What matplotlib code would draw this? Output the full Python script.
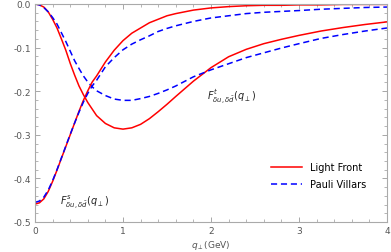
import numpy as np
import matplotlib.pyplot as plt
from matplotlib.ticker import MultipleLocator, FormatStrFormatter

# q_perp grid (GeV)
q = [0, 0.05, 0.1, 0.15, 0.2, 0.25, 0.3, 0.35, 0.4, 0.45, 0.5, 0.55, 0.6, 0.65,
     0.7, 0.8, 0.9, 1.0, 1.1, 1.2, 1.3, 1.4, 1.5, 1.6, 1.8, 2.0, 2.2, 2.4, 2.6,
     2.8, 3.0, 3.25, 3.5, 3.75, 4.0]

lf_t = [0, -0.002, -0.007, -0.018, -0.035, -0.055, -0.080, -0.106, -0.136, -0.163,
        -0.188, -0.208, -0.226, -0.241, -0.256, -0.274, -0.284, -0.287, -0.284,
        -0.276, -0.263, -0.247, -0.230, -0.212, -0.177, -0.146, -0.121, -0.104,
        -0.091, -0.081, -0.072, -0.062, -0.054, -0.047, -0.041]
pv_t = [0, -0.002, -0.008, -0.018, -0.031, -0.046, -0.066, -0.086, -0.108, -0.130,
        -0.148, -0.165, -0.179, -0.190, -0.199, -0.210, -0.218, -0.221, -0.221,
        -0.217, -0.212, -0.205, -0.197, -0.188, -0.167, -0.151, -0.137, -0.123,
        -0.112, -0.101, -0.091, -0.079, -0.070, -0.062, -0.055]
lf_s = [-0.459, -0.456, -0.447, -0.430, -0.407, -0.381, -0.354, -0.327, -0.300,
        -0.273, -0.246, -0.221, -0.199, -0.179, -0.165, -0.133, -0.106, -0.084,
        -0.067, -0.055, -0.043, -0.035, -0.027, -0.022, -0.014, -0.009, -0.006,
        -0.004, -0.003, -0.003, -0.002, -0.002, -0.001, -0.001, -0.001]
pv_s = [-0.455, -0.452, -0.443, -0.427, -0.405, -0.380, -0.353, -0.326, -0.299,
        -0.273, -0.248, -0.225, -0.205, -0.188, -0.175, -0.144, -0.123, -0.105,
        -0.092, -0.082, -0.073, -0.063, -0.056, -0.050, -0.040, -0.032, -0.027,
        -0.022, -0.019, -0.017, -0.015, -0.012, -0.010, -0.008, -0.007]

labels = ["Light Front", "Pauli Villars"]

fig = plt.figure(figsize=(3.91, 2.53), dpi=100)
ax = fig.add_axes([35/391, 1-223/253, 352/391, 218/253])

ax.plot(q, lf_t, color="#ff0000", lw=1.1, label=labels[0])
ax.plot(q, pv_t, color="#0000ff", lw=1.1, ls=(0, (4, 2.5)), label=labels[1])
ax.plot(q, lf_s, color="#ff0000", lw=1.1)
ax.plot(q, pv_s, color="#0000ff", lw=1.1, ls=(0, (4, 2.5)))

ax.set_xlim(0, 4)
ax.set_ylim(-0.5, 0)
ax.xaxis.set_major_locator(MultipleLocator(1))
ax.xaxis.set_minor_locator(MultipleLocator(0.2))
ax.yaxis.set_major_locator(MultipleLocator(0.1))
ax.yaxis.set_minor_locator(MultipleLocator(0.02))
ax.xaxis.set_major_formatter(FormatStrFormatter("%d"))
ax.yaxis.set_major_formatter(FormatStrFormatter("%.1f"))
ax.tick_params(which="both", direction="in", top=True, right=True,
               color="#999999", labelsize=6.5, labelcolor="#555555", pad=3)
ax.tick_params(which="major", length=3.5, width=0.6)
ax.tick_params(which="minor", length=2, width=0.5)
ax.tick_params(axis="x", labeltop=False)
ax.tick_params(axis="y", labelright=False)
for s in ax.spines.values():
    s.set_color("#aaaaaa")
    s.set_linewidth(0.8)

ax.set_xlabel(r"$q_{\perp}$(GeV)", fontsize=6.5, color="#555555", labelpad=2)

ax.text(0.285, -0.452, r"$F^{s}_{\delta u,\delta \bar{d}}(q_{\perp})$",
        fontsize=7, color="#222222", va="center")
ax.text(1.96, -0.212, r"$F^{t}_{\delta u,\delta \bar{d}}(q_{\perp})$",
        fontsize=7, color="#222222", va="center")

ax.legend(loc="lower right", bbox_to_anchor=(0.965, 0.11), frameon=False,
          fontsize=7, handlelength=3.2, handletextpad=0.8, labelspacing=0.75)

fig.savefig("out.png", dpi=100)
